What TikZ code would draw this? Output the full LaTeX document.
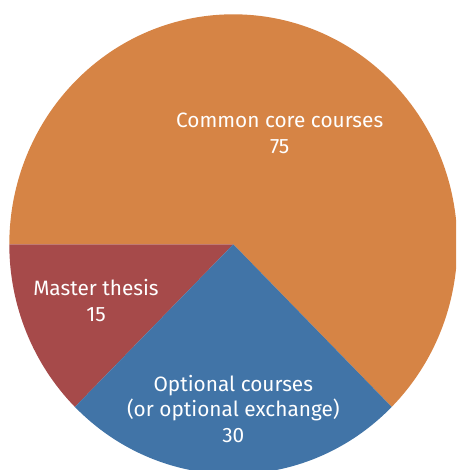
\documentclass[tikz,border=0pt]{standalone}
\usepackage{fontspec}
\setmainfont{Fira Sans}
\usepackage{tikz}
\usetikzlibrary{positioning}
\definecolor{corecol}{RGB}{214,132,69}
\definecolor{thesiscol}{RGB}{166,74,74}
\definecolor{optcol}{RGB}{65,116,167}

\begin{document}
\begin{tikzpicture}[x=1pt,y=1pt]
\tikzstyle{every node}+=[inner sep=0pt]
\tikzstyle{slicetext}=[text=white,align=center,font=\fontsize{20.8}{25.8}\selectfont]
\useasboundingbox (-233.3,-225.7) rectangle (222.7,244.3);
\clip (-233.3,-225.7) rectangle (222.7,244.3);
\fill [corecol] (0,0) -- (-45:224 and 230) arc [start angle=-45, end angle=180, x radius=224, y radius=230] -- cycle;
\fill [thesiscol] (0,0) -- (180:224 and 230) arc [start angle=180, end angle=225, x radius=224, y radius=230] -- cycle;
\fill [optcol] (0,0) -- (225:224 and 230) arc [start angle=225, end angle=315, x radius=224, y radius=230] -- cycle;
\node [slicetext] (core) at (46.4,110.6) {Common core courses\\75};
\node [slicetext] (thesis) at (-137.3,-56.2) {Master thesis\\15};
\node [slicetext] (optional) at (0,-164.7) {Optional courses\\(or optional exchange)\\30};
\end{tikzpicture}
\end{document}
